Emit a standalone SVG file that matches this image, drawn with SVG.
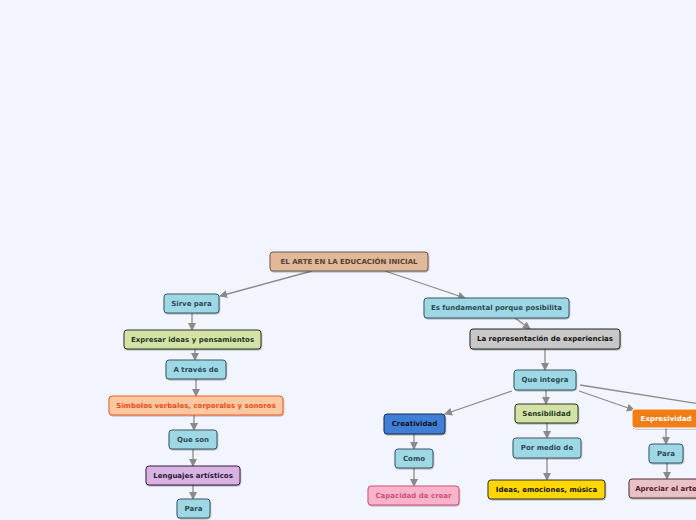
<svg xmlns="http://www.w3.org/2000/svg" width="696" height="520" viewBox="0 0 696 520">
<defs>
<marker id="ah" markerWidth="8" markerHeight="8" refX="7" refY="4" orient="auto" markerUnits="userSpaceOnUse">
<path d="M0,0 L8,4 L0,8 Z" fill="#8a8a8a"/>
</marker>
<filter id="sh" x="-10%" y="-20%" width="120%" height="160%">
<feDropShadow dx="0.5" dy="1" stdDeviation="0.6" flood-color="#000" flood-opacity="0.3"/>
</filter>
</defs>
<style>
text{font-family:"DejaVu Sans","Verdana",sans-serif;font-weight:bold;font-size:7px;text-anchor:middle;dominant-baseline:central}
.n rect{stroke-width:1;filter:url(#sh)}
.blue rect{fill:#9ed8e5;stroke:#3b5566}
.blue text{fill:#2b4858}
.green rect{fill:#d4e2a7;stroke:#27381d}
.green text{fill:#1e3a1c}
#c path{fill:none;stroke:#8a8a8a;stroke-width:1.3}
</style>
<rect width="696" height="520" fill="#f3f5fe"/>
<g id="c">
<path d="M312,271 L220,296" marker-end="url(#ah)"/>
<path d="M385,271 L465,298" marker-end="url(#ah)"/>
<path d="M192,313 L192,330" marker-end="url(#ah)"/>
<path d="M195,349 L195,360" marker-end="url(#ah)"/>
<path d="M196,379 L196,396" marker-end="url(#ah)"/>
<path d="M194,415 L194,430" marker-end="url(#ah)"/>
<path d="M193,449 L193,466" marker-end="url(#ah)"/>
<path d="M193,485 L193,499" marker-end="url(#ah)"/>
<path d="M515,318 L530,329" marker-end="url(#ah)"/>
<path d="M545,349 L545,370" marker-end="url(#ah)"/>
<path d="M512,391 L445,414" marker-end="url(#ah)"/>
<path d="M546,390 L546,404" marker-end="url(#ah)"/>
<path d="M579,391 L634,410" marker-end="url(#ah)"/>
<path d="M580,385 L700,404"/>
<path d="M414,434 L414,449" marker-end="url(#ah)"/>
<path d="M414,468 L414,486" marker-end="url(#ah)"/>
<path d="M547,423 L547,438" marker-end="url(#ah)"/>
<path d="M547,458 L547,480" marker-end="url(#ah)"/>
<path d="M666,428 L666,444" marker-end="url(#ah)"/>
<path d="M667,463 L667,479" marker-end="url(#ah)"/>
</g>
<g id="n1" class="n"><rect x="270" y="252" width="158" height="19" rx="3" fill="#e0b99a" stroke="#6b5a4a"/><text x="349" y="261.5" fill="#5a4030">EL ARTE EN LA EDUCACIÓN INICIAL</text></g>
<g id="n2" class="n blue"><rect x="164" y="294" width="55" height="19" rx="3"/><text x="191.5" y="303.5">Sirve para</text></g>
<g id="n3" class="n green"><rect x="124" y="330" width="137" height="19" rx="3"/><text x="192.5" y="339.5">Expresar ideas y pensamientos</text></g>
<g id="n4" class="n blue"><rect x="166" y="360" width="60" height="19" rx="3"/><text x="196" y="369.5">A través de</text></g>
<g id="n5" class="n"><rect x="109" y="396" width="174" height="19" rx="3" fill="#fbc8a2" stroke="#f05a22"/><text x="196" y="405.5" fill="#f04a12">Símbolos verbales, corporales y sonoros</text></g>
<g id="n6" class="n blue"><rect x="169" y="430" width="48" height="19" rx="3"/><text x="193" y="439.5">Que son</text></g>
<g id="n7" class="n"><rect x="146" y="466" width="94" height="19" rx="3" fill="#d8b2e0" stroke="#3a1a48"/><text x="193" y="475.5" fill="#2a1a3a">Lenguajes artísticos</text></g>
<g id="n8" class="n blue"><rect x="177" y="499" width="33" height="19" rx="3"/><text x="193.5" y="508.5">Para</text></g>
<g id="n9" class="n blue"><rect x="424" y="298" width="145" height="20" rx="3"/><text x="496.5" y="308">Es fundamental porque posibilita</text></g>
<g id="n10" class="n"><rect x="470" y="329" width="150" height="20" rx="3" fill="#c8c8c8" stroke="#222"/><text x="545" y="339" fill="#111">La representación de experiencias</text></g>
<g id="n11" class="n blue"><rect x="514" y="370" width="62" height="20" rx="3"/><text x="545" y="380">Que integra</text></g>
<g id="n12" class="n"><rect x="384" y="414" width="61" height="20" rx="3" fill="#3f7fd6" stroke="#1a2a4a"/><text x="414.5" y="424" fill="#111">Creatividad</text></g>
<g id="n13" class="n green"><rect x="515" y="404" width="63" height="19" rx="3"/><text x="546.5" y="413.5">Sensibilidad</text></g>
<g id="n14" class="n blue"><rect x="395" y="449" width="38" height="19" rx="3"/><text x="414" y="458.5">Como</text></g>
<g id="n15" class="n blue"><rect x="513" y="438" width="68" height="20" rx="3"/><text x="547" y="448">Por medio de</text></g>
<g id="n16" class="n"><rect x="368" y="486" width="91" height="19" rx="3" fill="#f9b4c9" stroke="#d24c7c"/><text x="413.5" y="495.5" fill="#d24c7c">Capacidad de crear</text></g>
<g id="n17" class="n"><rect x="488" y="480" width="117" height="19" rx="3" fill="#ffd700" stroke="#333"/><text x="546.5" y="489.5" fill="#111">Ideas, emociones, música</text></g>
<g id="n18" class="n"><rect x="632" y="409" width="70" height="19" rx="3" fill="#f07d12" stroke="#ffffff"/><text x="666" y="418.5" fill="#ffffff">Expresividad</text></g>
<g id="n19" class="n blue"><rect x="649" y="444" width="34" height="19" rx="3"/><text x="666" y="453.5">Para</text></g>
<g id="n20" class="n"><rect x="629" y="479" width="75" height="19" rx="3" fill="#e7c3c7" stroke="#5a2a2e"/><text x="666" y="488.5" fill="#5a1a28">Apreciar el arte</text></g>
</svg>
